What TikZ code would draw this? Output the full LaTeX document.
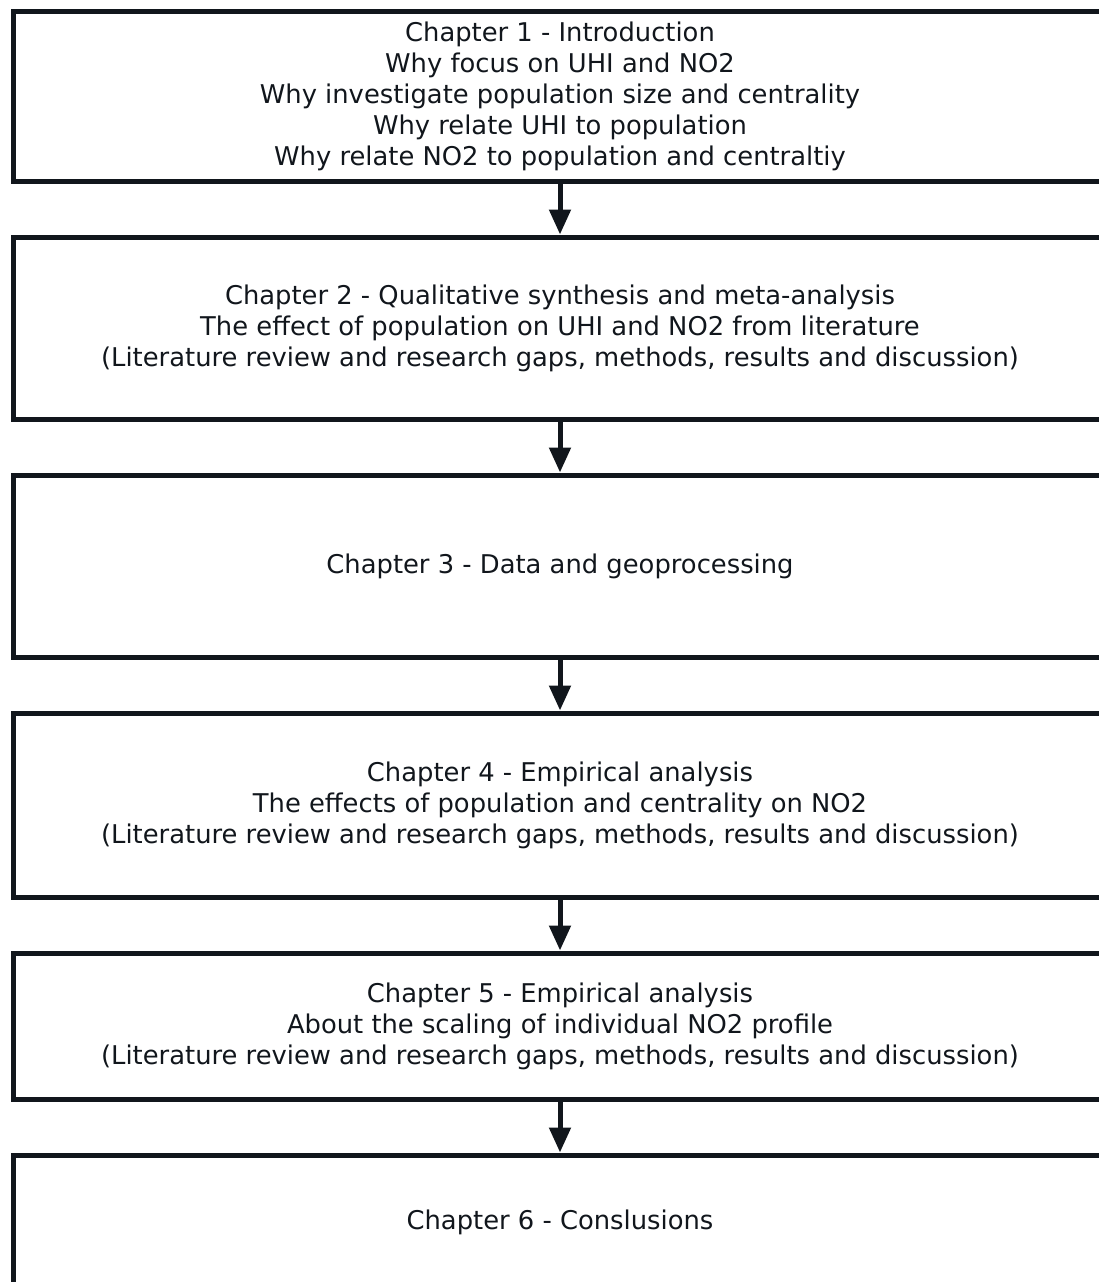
\documentclass[tikz,border=0pt]{standalone}
\usepackage{fontspec}
\setmainfont{DejaVu Sans}
\usetikzlibrary{positioning,arrows.meta}
\definecolor{inkline}{HTML}{11161C}

\begin{document}
\begin{tikzpicture}[-{Triangle[width=10.5pt,length=12.5pt]}, line width=2.5pt, color=inkline, node distance=25.5pt, chapter/.style={rectangle, draw, minimum width=547pt, align=center, font=\fontsize{12.9}{15.5}\selectfont}]

		\clip (0pt,0pt) rectangle (549.5pt,-641pt);

		\node[chapter, minimum height=85pt] (1) at (280pt,-48pt) {Chapter 1 - Introduction\\Why focus on UHI and NO2\\Why investigate population size and centrality\\Why relate UHI to population\\Why relate NO2 to population and centraltiy};
		\node[chapter, minimum height=91pt] (2) [below=of 1] {Chapter 2 - Qualitative synthesis and meta-analysis\\The effect of population on UHI and NO2 from literature\\(Literature review and research gaps, methods, results and discussion)};
		\node[chapter, minimum height=91pt] (3) [below=of 2] {Chapter 3 - Data and geoprocessing};
		\node[chapter, minimum height=92pt] (4) [below=of 3] {Chapter 4 - Empirical analysis\\The effects of population and centrality on NO2\\(Literature review and research gaps, methods, results and discussion)};
		\node[chapter, minimum height=73pt] (5) [below=of 4] {Chapter 5 - Empirical analysis\\About the scaling of individual NO2 profile\\(Literature review and research gaps, methods, results and discussion)};
		\node[chapter, minimum height=67pt] (6) [below=of 5] {Chapter 6 - Conslusions};

		\path
		(1) edge (2)
		(2) edge (3)
		(3) edge (4)
		(4) edge (5)
		(5) edge (6);

\end{tikzpicture}
\end{document}
